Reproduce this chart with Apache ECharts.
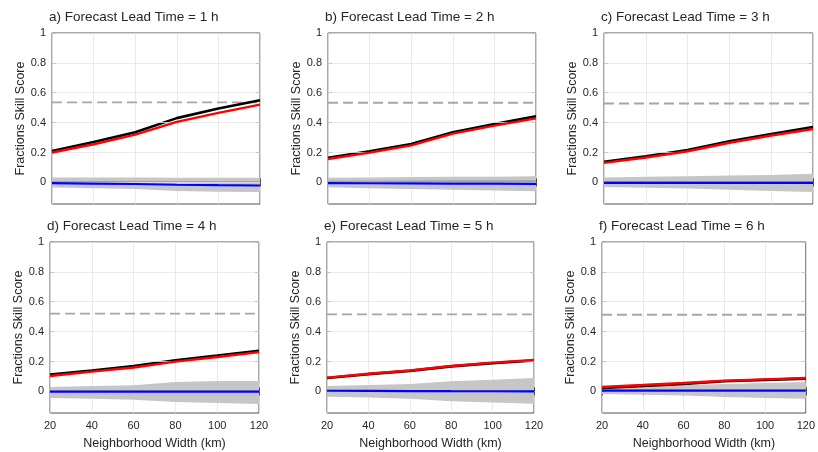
<!DOCTYPE html>
<html><head><meta charset="utf-8">
<script src="https://cdn.jsdelivr.net/npm/echarts@6/dist/echarts.min.js"></script>
<style>html,body{margin:0;padding:0;background:#fff}#c{width:818px;height:452px}</style>
</head><body><div id="c"></div>
<script>
// ---- data ----
const widths = [20, 40, 60, 80, 100, 120];
const yTicks = [0, 0.2, 0.4, 0.6, 0.8, 1];
const panelTitles = [
  'a) Forecast Lead Time = 1 h', 'b) Forecast Lead Time = 2 h', 'c) Forecast Lead Time = 3 h',
  'd) Forecast Lead Time = 4 h', 'e) Forecast Lead Time = 5 h', 'f) Forecast Lead Time = 6 h'
];
const fssBlack = [
  [0.21, 0.27, 0.335, 0.43, 0.495, 0.55],
  [0.165, 0.208, 0.257, 0.335, 0.39, 0.442],
  [0.138, 0.174, 0.217, 0.275, 0.324, 0.37],
  [0.112, 0.14, 0.17, 0.208, 0.239, 0.272],
  [0.089, 0.115, 0.137, 0.167, 0.189, 0.207],
  [0.022, 0.036, 0.05, 0.068, 0.077, 0.085]
];
const fssRed = [
  [0.20, 0.255, 0.32, 0.405, 0.465, 0.52],
  [0.156, 0.199, 0.248, 0.326, 0.38, 0.428],
  [0.13, 0.166, 0.208, 0.265, 0.314, 0.357],
  [0.103, 0.132, 0.16, 0.199, 0.23, 0.263],
  [0.092, 0.118, 0.14, 0.17, 0.192, 0.21],
  [0.029, 0.042, 0.056, 0.071, 0.08, 0.089]
];
const fssBlue = [
  [-0.005, -0.008, -0.011, -0.016, -0.019, -0.021],
  [-0.005, -0.006, -0.007, -0.008, -0.009, -0.01],
  [-0.003, -0.003, -0.003, -0.003, -0.003, -0.003],
  [-0.002, -0.002, -0.002, -0.002, -0.002, -0.002],
  [0.004, 0.003, 0.002, 0.001, 0.0005, 0],
  [0.005, 0.005, 0.005, 0.005, 0.005, 0.005]
];
const bandMid = [
  [0.004, 0.004, 0.004, 0.004, 0.004, 0.004],
  [0.006, 0.006, 0.007, 0.008, 0.008, 0.008],
  [0.003, 0.003, 0.003, 0.003, 0.003, 0.003],
  [0.001, 0.001, 0.001, 0.001, 0.001, 0.001],
  [0.004, 0.003, 0.002, 0.001, 0.0005, 0],
  [0.005, 0.005, 0.005, 0.005, 0.005, 0.005]
];
const bandHigh = [
  [0.033, 0.033, 0.032, 0.031, 0.031, 0.031],
  [0.03, 0.033, 0.035, 0.037, 0.038, 0.04],
  [0.033, 0.037, 0.041, 0.045, 0.05, 0.058],
  [0.029, 0.035, 0.04, 0.0625, 0.069, 0.069],
  [0.036, 0.043, 0.05, 0.067, 0.078, 0.089],
  [0.025, 0.032, 0.04, 0.05, 0.056, 0.062]
];
const bandLow = [
  [-0.035, -0.04, -0.045, -0.058, -0.063, -0.065],
  [-0.033, -0.04, -0.045, -0.05, -0.055, -0.06],
  [-0.031, -0.036, -0.042, -0.05, -0.058, -0.065],
  [-0.045, -0.05, -0.056, -0.071, -0.078, -0.085],
  [-0.036, -0.042, -0.049, -0.067, -0.075, -0.083],
  [-0.018, -0.022, -0.027, -0.038, -0.044, -0.049]
];
const refLevel = [0.535, 0.533, 0.528, 0.52, 0.516, 0.513];

// ---- layout ----
const lefts = [52, 328, 604, 50, 327, 602];
const gw = [208, 208, 209, 209, 207, 210];
const tops = [33, 33, 33, 242, 242, 242];
const gh = 171;
const txt = '#262626';
const font = 'Liberation Sans, Arial, Helvetica, sans-serif';

const grid = [], xAxis = [], yAxis = [], series = [], title = [];
for (let i = 0; i < 6; i++) {
  grid.push({left: lefts[i], top: tops[i], width: gw[i], height: gh, show: true,
    borderColor: txt, borderWidth: 0.8, backgroundColor: '#fff'});
  title.push({text: panelTitles[i], left: lefts[i] - 3, top: tops[i] - 23, padding: 0,
    textStyle: {fontSize: 13.5, fontWeight: 'normal', color: txt, fontFamily: font}});
}
for (let i = 0; i < 6; i++) {
  const bottomRow = i >= 3;
  xAxis.push({gridIndex: i, type: 'value', min: 20, max: 120, interval: 20,
    axisLine: {show: false}, axisTick: {show: true, inside: true, length: 4, lineStyle: {color: txt, width: 0.8}},
    axisLabel: {show: bottomRow, fontSize: 11, color: txt, fontFamily: font, margin: 7},
    splitLine: {show: true, lineStyle: {color: '#e5e5e5', width: 0.8}},
    name: bottomRow ? 'Neighborhood Width (km)' : '', nameLocation: 'middle', nameGap: 24,
    nameTextStyle: {fontSize: 12.5, color: txt, fontFamily: font}});
  yAxis.push({gridIndex: i, type: 'value', min: -0.145, max: 1,
    axisLine: {show: false},
    axisTick: {show: true, inside: true, length: 4, customValues: yTicks, lineStyle: {color: txt, width: 0.8}},
    axisLabel: {show: true, customValues: yTicks, fontSize: 11, color: txt, fontFamily: font, margin: 6,
      formatter: v => String(+v.toFixed(1))},
    splitLine: {show: false},
    name: 'Fractions Skill Score', nameLocation: 'middle', nameGap: 24,
    nameTextStyle: {fontSize: 12.5, color: txt, fontFamily: font}});
}
for (let i = 0; i < 6; i++) {
  xAxis.push({gridIndex: i, type: 'value', position: 'top', min: 20, max: 120, interval: 20,
    axisLine: {show: false}, axisLabel: {show: false}, splitLine: {show: false},
    axisTick: {show: true, inside: true, length: 4, lineStyle: {color: txt, width: 0.8}}});
  yAxis.push({gridIndex: i, type: 'value', position: 'right', min: -0.145, max: 1,
    axisLine: {show: false}, axisLabel: {show: false, customValues: yTicks}, splitLine: {show: false},
    axisTick: {show: true, inside: true, length: 4, customValues: yTicks, lineStyle: {color: txt, width: 0.8}}});
}
const pts = arr => widths.map((w, j) => [w, arr[j]]);
for (let i = 0; i < 6; i++) {
  const base = {xAxisIndex: i, yAxisIndex: i, silent: true, animation: false};
  // horizontal grid lines at the y tick values
  series.push(Object.assign({}, base, {type: 'line', data: [], z: 1,
    markLine: {silent: true, symbol: ['none', 'none'], label: {show: false}, animation: false,
      lineStyle: {type: 'solid', color: '#e5e5e5', width: 0.8},
      data: yTicks.map(v => ({yAxis: v}))}}));
  // shaded band
  const lo = bandLow[i], hi = bandHigh[i];
  series.push(Object.assign({}, base, {type: 'custom', z: 2,
    data: widths.map((w, j) => [w, lo[j], hi[j]]),
    renderItem: (params, api) => {
      if (params.dataIndex !== 0) return null;
      const poly = [];
      for (let j = 0; j < widths.length; j++) poly.push(api.coord([widths[j], hi[j]]));
      for (let j = widths.length - 1; j >= 0; j--) poly.push(api.coord([widths[j], lo[j]]));
      return {type: 'polygon', shape: {points: poly}, style: {fill: '#c6c6c6'}};
    }}));
  series.push(Object.assign({}, base, {type: 'line', symbol: 'none', data: pts(bandMid[i]),
    lineStyle: {color: '#a3a3a3', width: 1.6}, z: 3}));
  series.push(Object.assign({}, base, {type: 'line', symbol: 'none',
    data: [[widths[0], refLevel[i]], [widths[widths.length - 1], refLevel[i]]],
    lineStyle: {color: '#a6a6a6', width: 1.8, type: [10, 5]}, z: 3}));
  series.push(Object.assign({}, base, {type: 'line', symbol: 'none', data: pts(fssBlack[i]), lineStyle: {color: '#000', width: 2.6}, z: 4}));
  series.push(Object.assign({}, base, {type: 'line', symbol: 'none', data: pts(fssRed[i]), lineStyle: {color: '#ff0000', width: 2.4}, z: 5}));
  series.push(Object.assign({}, base, {type: 'line', symbol: 'none', data: pts(fssBlue[i]), lineStyle: {color: '#0000ff', width: 2.2}, z: 6}));
}
const chart = echarts.init(document.getElementById('c'), null, {renderer: 'canvas'});
chart.setOption({animation: false, backgroundColor: '#fff', title, grid, xAxis, yAxis, series});
</script>
</body></html>
